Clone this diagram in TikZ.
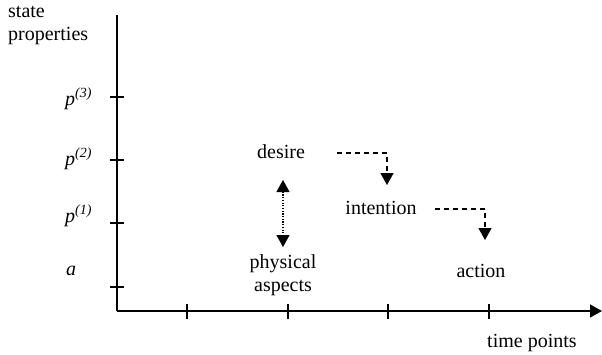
\documentclass[tikz,border=0pt]{standalone}
\usepackage{fontspec}
\setmainfont{Liberation Serif}
\usetikzlibrary{arrows.meta}
\newcommand{\supi}[1]{\raisebox{7.5pt}{\fontsize{14}{14}\selectfont\itshape(#1)}}
\tikzset{
  axis/.style={line width=1.4pt},
  tickmark/.style={line width=1.2pt},
  lbl/.style={font=\fontsize{20}{22.5}\selectfont, inner sep=0pt},
  dashedarrow/.style={line width=1.3pt, dash pattern=on 5pt off 4pt, -{Triangle[length=12pt,width=13pt]}},
  dottedarrow/.style={line width=1.2pt, dash pattern=on 1.2pt off 1.5pt, {Triangle[length=12pt,width=13pt]}-{Triangle[length=12pt,width=13pt]}}
}
\begin{document}
\begin{tikzpicture}[x=1pt,y=-1pt]
\useasboundingbox (0,0) rectangle (602,354);
% axes
\coordinate (ytop) at (117,15);
\coordinate (orig) at (117,311);
\coordinate (xend) at (602,311);
\draw[axis] (ytop) -- (orig);
\draw[axis, -{Triangle[length=12pt,width=13pt]}] (orig) -- (xend);
% y ticks
\foreach \y/\n in {97/t3,160/t2,223/t1,287/t0}{
  \coordinate (\n) at (117,\y);
  \draw[tickmark] ([xshift=-7pt]\n) -- ([xshift=7pt]\n);
}
% x ticks
\foreach \x/\n in {187/x1,288/x2,388/x3,489/x4}{
  \coordinate (\n) at (\x,311);
  \draw[tickmark] ([yshift=-8pt]\n) -- ([yshift=7pt]\n);
}
% axis labels
\node[lbl, anchor=base west, align=left] (sp) at (8,40) {state\\properties};
\node[lbl, anchor=base west] (tp) at (487,347) {time points};
\node[lbl, anchor=base west] (p3) at (65,105) {\textit{p}\supi{3}};
\node[lbl, anchor=base west] (p2) at (65,165) {\textit{p}\supi{2}};
\node[lbl, anchor=base west] (p1) at (65,222) {\textit{p}\supi{1}};
\node[lbl, anchor=base west] (pa) at (66,275) {\textit{a}};
% content nodes
\node[lbl, anchor=base] (desire) at (281,158) {desire};
\node[lbl, anchor=base] (intention) at (381,214) {intention};
\node[lbl, anchor=base, align=center] (phys) at (283,291) {physical\\aspects};
\node[lbl, anchor=base] (action) at (481,277) {action};
% connectors
\coordinate (a1) at (283,180);
\coordinate (a2) at (283,247);
\draw[dottedarrow] (a1) -- (a2);
\coordinate (d1s) at (337,153);
\coordinate (d1e) at (387,185);
\draw[dashedarrow] (d1s) -| (d1e);
\coordinate (d2s) at (435,209);
\coordinate (d2e) at (485,240);
\draw[dashedarrow] (d2s) -| (d2e);
\end{tikzpicture}
\end{document}
